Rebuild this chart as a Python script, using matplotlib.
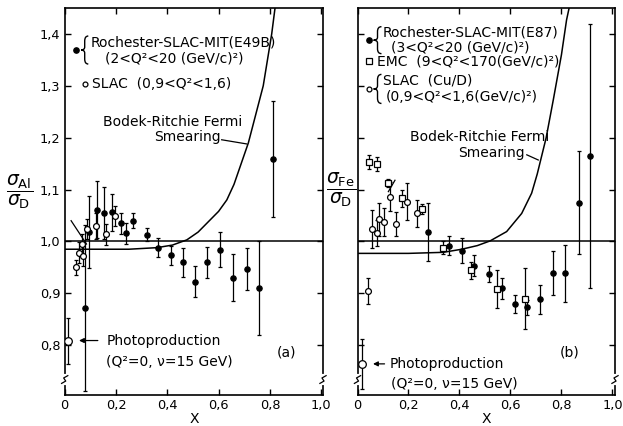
import matplotlib
matplotlib.use("Agg")
import matplotlib.pyplot as plt
from matplotlib.path import Path
from matplotlib.patches import PathPatch

# ---------------- data: panel (a) Al/D ----------------
a_rsm_x = [0.080, 0.096, 0.125, 0.154, 0.186, 0.219, 0.239, 0.268, 0.320, 0.365,
           0.413, 0.460, 0.508, 0.555, 0.607, 0.657, 0.711, 0.759, 0.813]
a_rsm_y = [0.872, 1.018, 1.061, 1.055, 1.056, 1.035, 1.016, 1.040, 1.013, 0.988,
           0.973, 0.960, 0.922, 0.960, 0.984, 0.930, 0.947, 0.910, 1.159]
a_rsm_e = [0.160, 0.070, 0.055, 0.050, 0.035, 0.020, 0.020, 0.015, 0.012, 0.018,
           0.018, 0.028, 0.030, 0.030, 0.034, 0.045, 0.040, 0.090, 0.112]

a_slac_x = [0.044, 0.056, 0.070, 0.069, 0.086, 0.121, 0.161, 0.196]
a_slac_y = [0.950, 0.978, 0.972, 0.995, 1.024, 1.030, 1.014, 1.049]
a_slac_e = [0.015, 0.020, 0.020, 0.020, 0.020, 0.025, 0.020, 0.020]

a_photo_x = [0.012]
a_photo_y = [0.808]
a_photo_e = [0.045]

a_curve_x = [0.0, 0.25, 0.359, 0.42, 0.476, 0.52, 0.554, 0.60, 0.632, 0.66,
             0.716, 0.774, 0.807, 0.82]
a_curve_y = [0.985, 0.985, 0.988, 0.993, 1.003, 1.018, 1.035, 1.058, 1.080, 1.110,
             1.190, 1.300, 1.400, 1.450]

# ---------------- data: panel (b) Fe/D ----------------
b_rsm_x = [0.275, 0.360, 0.411, 0.458, 0.516, 0.568, 0.616, 0.666, 0.716, 0.765,
           0.815, 0.867, 0.912]
b_rsm_y = [1.019, 0.992, 0.982, 0.953, 0.937, 0.910, 0.880, 0.873, 0.889, 0.939,
           0.939, 1.075, 1.165]
b_rsm_e = [0.056, 0.018, 0.024, 0.020, 0.016, 0.020, 0.017, 0.015, 0.028, 0.043,
           0.055, 0.100, 0.255]

b_emc_x = [0.045, 0.075, 0.121, 0.173, 0.252, 0.337, 0.445, 0.548, 0.657]
b_emc_y = [1.153, 1.149, 1.113, 1.083, 1.063, 0.988, 0.944, 0.908, 0.890]
b_emc_e = [0.013, 0.013, 0.008, 0.016, 0.010, 0.012, 0.016, 0.036, 0.058]

b_slac_x = [0.043, 0.056, 0.078, 0.084, 0.105, 0.126, 0.150, 0.193, 0.232]
b_slac_y = [0.905, 1.024, 1.016, 1.043, 1.038, 1.086, 1.034, 1.077, 1.054]
b_slac_e = [0.025, 0.037, 0.025, 0.032, 0.027, 0.028, 0.023, 0.035, 0.026]

b_photo_x = [0.019]
b_photo_y = [0.764]
b_photo_e = [0.048]

b_curve_x = [0.0, 0.20, 0.336, 0.409, 0.47, 0.52, 0.585, 0.644, 0.683, 0.705,
             0.74, 0.768, 0.80, 0.82, 0.83]
b_curve_y = [0.977, 0.977, 0.979, 0.985, 0.992, 1.001, 1.019, 1.054, 1.093, 1.130,
             1.200, 1.273, 1.360, 1.427, 1.450]

# ---------------- ticks ----------------
x_ticks = [0.0, 0.2, 0.4, 0.6, 0.8, 1.0]
x_tick_labels = ["0", "0,2", "0,4", "0,6", "0,8", "1,0"]
y_ticks = [0.8, 0.9, 1.0, 1.1, 1.2, 1.3, 1.4]
y_tick_labels = ["0,8", "0,9", "1,0", "1,1", "1,2", "1,3", "1,4"]

plt.rcParams['font.family'] = ['DejaVu Sans']
plt.rcParams['mathtext.fontset'] = 'dejavusans'

W, H = 623, 426
fig = plt.figure(figsize=(W / 100, H / 100), dpi=100)
fig.patch.set_facecolor('white')

axA = fig.add_axes([64.7 / W, 1 - 395 / H, (323 - 64.7) / W, (395 - 8) / H])
axB = fig.add_axes([357.5 / W, 1 - 395 / H, (615 - 357.5) / W, (395 - 8) / H])

FS = 9.3     # tick labels
TS = 10.0    # annotation text
LW = 1.1


def style(ax, xmax, ylabels):
    ax.set_xlim(0, xmax)
    ax.set_ylim(0.704, 1.45)
    ax.set_xticks(x_ticks)
    ax.set_xticklabels(x_tick_labels, fontsize=FS)
    ax.set_yticks(y_ticks)
    if ylabels:
        ax.set_yticklabels(y_tick_labels, fontsize=FS)
    else:
        ax.set_yticklabels([])
    ax.tick_params(direction='in', length=4, width=1.0, top=True, right=True,
                   pad=3)
    for s in ax.spines.values():
        s.set_linewidth(1.2)
    ax.set_xlabel("X", fontsize=TS, labelpad=0)
    ax.axhline(1.0, color='black', lw=LW, zorder=1)
    # axis break marks on both vertical axes
    for xs in (0.0, 1.0):
        ax.plot([xs, xs], [0.030, 0.050], transform=ax.transAxes, color='white',
                lw=3, clip_on=False, zorder=5)
        ax.plot([xs - 0.012, xs + 0.004, xs - 0.004, xs + 0.012],
                [0.030, 0.036, 0.044, 0.050], transform=ax.transAxes,
                color='black', lw=0.9, clip_on=False, zorder=6)


def brace(ax, x0, x1, yb, yt):
    """Draw a left curly brace '{' between yb and yt, tip at x0, ends at x1."""
    xm = 0.5 * (x0 + x1)
    yc = 0.5 * (yb + yt)
    q = 0.18 * (yt - yb)
    verts = [(x1, yt), (xm, yt), (xm, yt - q),
             (xm, yc + q * 0.6), (xm, yc), (x0, yc),
             (xm, yc), (xm, yc - q * 0.6),
             (xm, yb + q), (xm, yb), (x1, yb)]
    codes = [Path.MOVETO, Path.CURVE3, Path.CURVE3,
             Path.LINETO, Path.CURVE3, Path.CURVE3,
             Path.CURVE3, Path.CURVE3,
             Path.LINETO, Path.CURVE3, Path.CURVE3]
    ax.add_patch(PathPatch(Path(verts, codes), fill=False, lw=1.0,
                           edgecolor='black'))


def eb(ax, x, y, e, marker, ms, face):
    ax.errorbar(x, y, yerr=e, fmt=marker, ms=ms, mfc=face, mec='black',
                mew=0.9, ecolor='black', elinewidth=0.9, capsize=1.5,
                capthick=0.9, zorder=4)


# ---------------- panel (a) ----------------
style(axA, 1.007, True)
axA.plot(a_curve_x, a_curve_y, color='black', lw=LW, zorder=2)
eb(axA, a_rsm_x, a_rsm_y, a_rsm_e, 'o', 3.8, 'black')
eb(axA, a_slac_x, a_slac_y, a_slac_e, 'o', 4.2, 'white')
eb(axA, a_photo_x, a_photo_y, a_photo_e, 'o', 5.5, 'white')
axA.plot([0.025, 0.085], [1.040, 0.995], color='black', lw=0.9)

axA.plot([0.044], [1.370], 'o', ms=3.8, color='black', clip_on=False)
brace(axA, 0.064, 0.092, 1.342, 1.396)
axA.text(0.100, 1.383, "Rochester-SLAC-MIT(E49B)", fontsize=TS, va='center')
axA.text(0.158, 1.352, "(2<Q²<20 (GeV/c)²)", fontsize=TS, va='center')
axA.plot([0.079], [1.303], 'o', ms=3.5, mfc='white', mec='black', mew=0.9)
axA.text(0.106, 1.303, "SLAC  (0,9<Q²<1,6)", fontsize=TS, va='center')
axA.text(0.422, 1.231, "Bodek-Ritchie Fermi", fontsize=TS, va='center',
         ha='center')
axA.text(0.477, 1.202, "Smearing", fontsize=TS, va='center', ha='center')
axA.plot([0.612, 0.709], [1.196, 1.188], color='black', lw=0.9)
axA.annotate("", xy=(0.045, 0.809), xytext=(0.140, 0.809),
             arrowprops=dict(arrowstyle='-|>', color='black', lw=0.9,
                             mutation_scale=7))
axA.text(0.162, 0.809, "Photoproduction", fontsize=TS, va='center')
axA.text(0.162, 0.768, "(Q²=0, ν=15 GeV)", fontsize=TS, va='center')
axA.text(0.866, 0.785, "(a)", fontsize=TS, va='center', ha='center')
fig.text(20 / W, 1 - 192 / H, r"$\dfrac{\sigma_{\mathrm{Al}}}{\sigma_{\mathrm{D}}}$",
         fontsize=13.5, ha='center', va='center')

# ---------------- panel (b) ----------------
style(axB, 1.01, False)
axB.plot(b_curve_x, b_curve_y, color='black', lw=LW, zorder=2)
eb(axB, b_rsm_x, b_rsm_y, b_rsm_e, 'o', 3.8, 'black')
eb(axB, b_emc_x, b_emc_y, b_emc_e, 's', 4.6, 'white')
eb(axB, b_slac_x, b_slac_y, b_slac_e, 'o', 4.2, 'white')
eb(axB, b_photo_x, b_photo_y, b_photo_e, 'o', 5.5, 'white')
axB.plot([0.121, 0.147], [1.096, 1.118], color='black', lw=0.9)

axB.plot([0.045], [1.388], 'o', ms=3.8, color='black')
brace(axB, 0.063, 0.094, 1.362, 1.414)
axB.text(0.100, 1.403, "Rochester-SLAC-MIT(E87)", fontsize=TS, va='center')
axB.text(0.132, 1.373, "(3<Q²<20 (GeV/c)²)", fontsize=TS, va='center')
axB.plot([0.045], [1.348], 's', ms=4.2, mfc='white', mec='black', mew=0.9)
axB.text(0.076, 1.346, "EMC  (9<Q²<170(GeV/c)²)", fontsize=TS, va='center')
axB.plot([0.045], [1.293], 'o', ms=3.5, mfc='white', mec='black', mew=0.9)
brace(axB, 0.063, 0.094, 1.266, 1.322)
axB.text(0.100, 1.311, "SLAC  (Cu/D)", fontsize=TS, va='center')
axB.text(0.112, 1.279, "(0,9<Q²<1,6(GeV/c)²)", fontsize=TS, va='center')
axB.text(0.480, 1.201, "Bodek-Ritchie Fermi", fontsize=TS, va='center',
         ha='center')
axB.text(0.526, 1.171, "Smearing", fontsize=TS, va='center', ha='center')
axB.plot([0.664, 0.709], [1.167, 1.157], color='black', lw=0.9)
axB.annotate("", xy=(0.050, 0.764), xytext=(0.117, 0.764),
             arrowprops=dict(arrowstyle='-|>', color='black', lw=0.9,
                             mutation_scale=7))
axB.text(0.127, 0.764, "Photoproduction", fontsize=TS, va='center')
axB.text(0.130, 0.726, "(Q²=0, ν=15 GeV)", fontsize=TS, va='center')
axB.text(0.833, 0.785, "(b)", fontsize=TS, va='center', ha='center')
fig.text(341 / W, 1 - 190 / H, r"$\dfrac{\sigma_{\mathrm{Fe}}}{\sigma_{\mathrm{D}}}$",
         fontsize=13.5, ha='center', va='center')

fig.savefig("out.png", dpi=100)
